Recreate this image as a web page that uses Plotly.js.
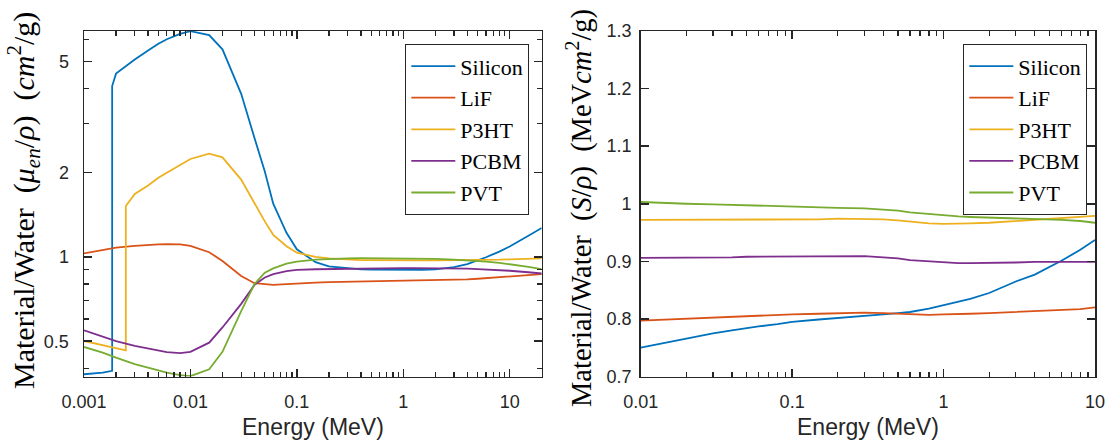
<!DOCTYPE html>
<html><head><meta charset="utf-8">
<script src="https://cdn.plot.ly/plotly-3.0.1.min.js"></script>
<style>html,body{margin:0;padding:0;background:#fff}#chart{width:1112px;height:446px}</style>
</head><body><div id="chart"></div>
<script>
// ---------- data ----------
const materials = ['Silicon', 'LiF', 'P3HT', 'PCBM', 'PVT'];
const colors = ['#0072BD', '#D95319', '#EDB120', '#7E2F8E', '#77AC30'];

// Left panel: mass energy-absorption coefficient ratio (material / water)
const energyAbs = [0.001,0.0015,0.002,0.003,0.004,0.005,0.006,0.008,0.01,0.015,0.02,0.03,0.04,0.05,0.06,0.08,0.1,0.15,0.2,0.3,0.4,0.5,0.6,0.8,1,1.25,1.5,2,3,4,5,6,8,10,15,20];
const energyAbsSilicon = [0.001,0.0015,0.001839,0.001839,0.002,0.003,0.004,0.005,0.006,0.008,0.01,0.015,0.02,0.03,0.04,0.05,0.06,0.08,0.1,0.15,0.2,0.3,0.4,0.5,0.6,0.8,1,1.25,1.5,2,3,4,5,6,8,10,15,20];
const energyAbsP3HT = [0.001,0.0015,0.002,0.002472,0.002472,0.003,0.004,0.005,0.006,0.008,0.01,0.015,0.02,0.03,0.04,0.05,0.06,0.08,0.1,0.15,0.2,0.3,0.4,0.5,0.6,0.8,1,1.25,1.5,2,3,4,5,6,8,10,15,20];
const absSilicon = [0.381,0.386,0.392,4.08,4.52,5.08,5.47,5.78,6.0,6.27,6.41,6.21,5.52,3.83,2.66,2.02,1.55,1.22,1.065,0.958,0.925,0.909,0.903,0.901,0.900,0.899,0.899,0.899,0.900,0.903,0.920,0.943,0.970,0.998,1.045,1.090,1.190,1.270];
const absLiF = [1.03,1.06,1.08,1.095,1.105,1.11,1.112,1.11,1.095,1.04,0.968,0.855,0.806,0.798,0.795,0.80,0.805,0.81,0.813,0.815,0.817,0.818,0.819,0.82,0.821,0.822,0.823,0.825,0.828,0.832,0.836,0.84,0.848,0.855,0.862,0.868];
const absP3HT = [0.501,0.485,0.472,0.464,1.52,1.68,1.80,1.92,2.0,2.14,2.24,2.34,2.27,1.89,1.55,1.34,1.20,1.092,1.036,1.0,0.988,0.978,0.975,0.974,0.973,0.973,0.973,0.973,0.973,0.973,0.973,0.974,0.975,0.976,0.978,0.981,0.985,0.989];
const absPCBM = [0.547,0.52,0.50,0.481,0.47,0.462,0.457,0.453,0.458,0.494,0.56,0.68,0.795,0.845,0.868,0.89,0.899,0.904,0.906,0.908,0.910,0.911,0.912,0.912,0.912,0.912,0.912,0.911,0.910,0.908,0.905,0.902,0.898,0.893,0.882,0.873];
const absPVT = [0.477,0.455,0.437,0.414,0.402,0.392,0.386,0.378,0.375,0.397,0.458,0.641,0.80,0.879,0.91,0.946,0.962,0.978,0.985,0.989,0.99,0.99,0.99,0.99,0.99,0.989,0.988,0.985,0.979,0.974,0.968,0.963,0.953,0.943,0.922,0.905];

// Right panel: mass stopping power ratio (material / water)
const energyStop = [0.01,0.015,0.02,0.03,0.04,0.05,0.06,0.08,0.1,0.15,0.2,0.3,0.4,0.5,0.6,0.8,1,1.25,1.5,2,3,4,5,6,8,10];
const stopSilicon = [0.750,0.759,0.766,0.775,0.780,0.784,0.787,0.791,0.795,0.799,0.802,0.806,0.808,0.810,0.812,0.818,0.824,0.829,0.835,0.845,0.865,0.877,0.890,0.901,0.920,0.937];
const stopLiF = [0.797,0.799,0.801,0.803,0.804,0.805,0.806,0.807,0.808,0.809,0.810,0.811,0.810,0.809,0.808,0.807,0.808,0.808,0.809,0.810,0.812,0.813,0.814,0.815,0.817,0.820];
const stopP3HT = [0.972,0.972,0.972,0.973,0.973,0.973,0.973,0.973,0.973,0.973,0.974,0.974,0.973,0.971,0.969,0.966,0.965,0.965,0.966,0.967,0.970,0.972,0.974,0.975,0.977,0.979];
const stopPCBM = [0.906,0.906,0.907,0.907,0.907,0.908,0.908,0.908,0.908,0.908,0.909,0.909,0.907,0.905,0.902,0.900,0.898,0.897,0.897,0.897,0.898,0.899,0.899,0.900,0.900,0.899];
const stopPVT = [1.003,1.001,1.000,0.999,0.998,0.997,0.996,0.996,0.995,0.994,0.993,0.992,0.990,0.988,0.985,0.982,0.980,0.978,0.977,0.976,0.975,0.974,0.973,0.972,0.970,0.967];

// tick labels
const xTicksLeft = [0.001, 0.01, 0.1, 1, 10];
const xTickTextLeft = ['0.001', '0.01', '0.1', '1', '10'];
const yTicksLeft = [0.5, 1, 2, 5];
const yTickTextLeft = ['0.5', '1', '2', '5'];
const xTicksRight = [0.01, 0.1, 1, 10];
const xTickTextRight = ['0.01', '0.1', '1', '10'];
const yTicksRight = [0.7, 0.8, 0.9, 1.0, 1.1, 1.2, 1.3];
const yTickTextRight = ['0.7', '0.8', '0.9', '1', '1.1', '1.2', '1.3'];

// ---------- traces ----------
const leftX = [energyAbsSilicon, energyAbs, energyAbsP3HT, energyAbs, energyAbs];
const leftY = [absSilicon, absLiF, absP3HT, absPCBM, absPVT];
const rightY = [stopSilicon, stopLiF, stopP3HT, stopPCBM, stopPVT];

const traces = [];
materials.forEach((m, i) => {
  traces.push({x: leftX[i], y: leftY[i], name: m, type: 'scatter', mode: 'lines',
    line: {color: colors[i], width: 1.8}, xaxis: 'x', yaxis: 'y', legend: 'legend', hoverinfo: 'skip'});
});
materials.forEach((m, i) => {
  traces.push({x: energyStop, y: rightY[i], name: m, type: 'scatter', mode: 'lines',
    line: {color: colors[i], width: 1.8}, xaxis: 'x2', yaxis: 'y2', legend: 'legend2', hoverinfo: 'skip'});
});
// transparent helper traces so that the minor-tick overlay axes get drawn
const helper = (x, y, xa, ya) => ({x: x, y: y, xaxis: xa, yaxis: ya, type: 'scatter', mode: 'lines',
  opacity: 0, line: {width: 0.1}, showlegend: false, hoverinfo: 'skip'});
traces.push(helper(energyAbs, absLiF, 'x3', 'y'));
traces.push(helper(energyAbs, absLiF, 'x', 'y3'));
traces.push(helper(energyStop, stopLiF, 'x4', 'y2'));

// ---------- layout ----------
function logMinor(lo, hi) {
  const v = [];
  for (let e = lo; e <= hi; e++) for (let k = 2; k <= 9; k++) v.push(k * Math.pow(10, e));
  return v;
}
const W = 1112, H = 446;
const axisBase = {
  showline: true, linecolor: '#262626', linewidth: 1.5, mirror: 'ticks',
  ticks: 'inside', ticklen: 8, tickwidth: 1.5, tickcolor: '#262626',
  showgrid: false, zeroline: false, autorange: false,
  tickfont: {family: 'Liberation Sans, Arial, sans-serif', size: 18, color: '#262626'}
};
// overlay axes that only carry the minor tick marks
const minorAxis = (extra) => Object.assign({
  showline: false, showgrid: false, zeroline: false, showticklabels: false, mirror: 'ticks', autorange: false,
  ticks: 'inside', ticklen: 4.5, tickwidth: 1.3, tickcolor: '#262626', tickmode: 'array'
}, extra);

const xDomL = [84 / W, 541.7 / W], xDomR = [640.7 / W, 1095 / W];
const yDom = [1 - 376.5 / H, 1 - 31 / H];
const xRangeL = [-3, Math.log10(20)], yRangeL = [Math.log10(0.374), Math.log10(6.42)], xRangeR = [-2, 1];
const legendFont = {family: 'Liberation Serif, Times New Roman, serif', size: 22, color: '#000'};
const layout = {
  width: W, height: H, margin: {l: 0, r: 0, t: 0, b: 0},
  paper_bgcolor: '#fff', plot_bgcolor: '#fff', showlegend: true,
  xaxis: Object.assign({}, axisBase, {type: 'log', domain: xDomL, anchor: 'y',
    range: xRangeL, tickmode: 'array', tickvals: xTicksLeft, ticktext: xTickTextLeft, ticklabelstandoff: 8}),
  yaxis: Object.assign({}, axisBase, {type: 'log', domain: yDom, anchor: 'x',
    range: yRangeL, tickmode: 'array', tickvals: yTicksLeft, ticktext: yTickTextLeft, ticklabelstandoff: 10}),
  xaxis2: Object.assign({}, axisBase, {type: 'log', domain: xDomR, anchor: 'y2',
    range: xRangeR, tickmode: 'array', tickvals: xTicksRight, ticktext: xTickTextRight, ticklabelstandoff: 8}),
  yaxis2: Object.assign({}, axisBase, {type: 'linear', domain: yDom, anchor: 'x2',
    range: [0.7, 1.3], tickmode: 'array', tickvals: yTicksRight, ticktext: yTickTextRight, ticklabelstandoff: 4}),
  xaxis3: minorAxis({type: 'log', overlaying: 'x', anchor: 'y', side: 'bottom', range: xRangeL, tickvals: logMinor(-3, 1)}),
  yaxis3: minorAxis({type: 'log', overlaying: 'y', anchor: 'x', side: 'left', range: yRangeL, tickvals: [0.4, 0.6, 0.7, 0.8, 0.9, 3, 4, 6]}),
  xaxis4: minorAxis({type: 'log', overlaying: 'x2', anchor: 'y2', side: 'bottom', range: xRangeR, tickvals: logMinor(-2, 0)}),
  legend: {x: 529 / W, y: 1 - 44 / H, xanchor: 'right', yanchor: 'top', bgcolor: '#fff', itemwidth: 44,
    bordercolor: '#262626', borderwidth: 1.3, font: legendFont},
  legend2: {x: 1087 / W, y: 1 - 44 / H, xanchor: 'right', yanchor: 'top', bgcolor: '#fff', itemwidth: 44,
    bordercolor: '#262626', borderwidth: 1.3, font: legendFont},
  annotations: [
    {text: 'Energy (MeV)', xref: 'paper', yref: 'paper', x: 312.9 / W, y: 1 - 427 / H, xanchor: 'center', yanchor: 'middle',
      showarrow: false, font: {family: 'Liberation Sans, Arial, sans-serif', size: 23, color: '#262626'}},
    {text: 'Energy (MeV)', xref: 'paper', yref: 'paper', x: 867.9 / W, y: 1 - 427 / H, xanchor: 'center', yanchor: 'middle',
      showarrow: false, font: {family: 'Liberation Sans, Arial, sans-serif', size: 23, color: '#262626'}},
    {text: 'Material/Water  (<i>μ<sub>en</sub></i>/<i>ρ</i>)  (<i>cm</i><sup>2</sup>/g)', xref: 'paper', yref: 'paper',
      x: 23 / W, y: 1 - 201 / H, xanchor: 'center', yanchor: 'middle', textangle: -90,
      showarrow: false, font: {family: 'Liberation Serif, Times New Roman, serif', size: 30, color: '#000'}},
    {text: 'Material/Water  (<i>S</i>/<i>ρ</i>)  (MeV<i>cm</i><sup>2</sup>/g)', xref: 'paper', yref: 'paper',
      x: 579 / W, y: 1 - 208 / H, xanchor: 'center', yanchor: 'middle', textangle: -90,
      showarrow: false, font: {family: 'Liberation Serif, Times New Roman, serif', size: 28.5, color: '#000'}}
  ]
};

Plotly.newPlot('chart', traces, layout, {staticPlot: true, displayModeBar: false});
</script>
</body></html>
